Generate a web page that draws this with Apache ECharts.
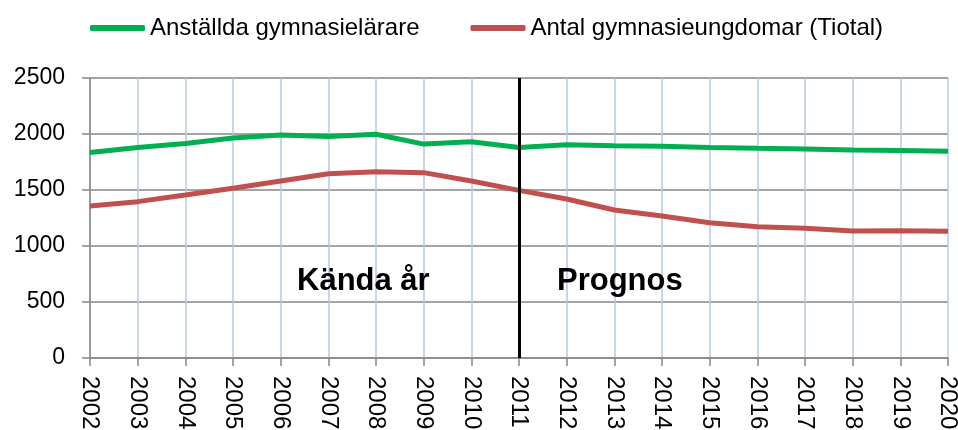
<!DOCTYPE html>
<html>
<head>
<meta charset="utf-8">
<script src="https://cdn.jsdelivr.net/npm/echarts@6/dist/echarts.min.js"></script>
<style>
  html, body { margin: 0; padding: 0; background: #fff; }
  #main { width: 958px; height: 430px; }
</style>
</head>
<body>
<div id="main"></div>
<script>
var years = ['2002', '2003', '2004', '2005', '2006', '2007', '2008', '2009', '2010', '2011',
    '2012', '2013', '2014', '2015', '2016', '2017', '2018', '2019', '2020'];
// Anställda gymnasielärare
var teachers = [1835, 1880, 1915, 1965, 1990, 1978, 1998, 1910, 1930, 1880,
    1905, 1895, 1890, 1880, 1873, 1867, 1858, 1853, 1847];
// Antal gymnasieungdomar (Tiotal)
var pupils = [1357, 1396, 1455, 1515, 1580, 1645, 1662, 1655, 1580, 1497,
    1420, 1321, 1268, 1208, 1172, 1158, 1134, 1137, 1131];
var splitYear = '2011';

var myChart = echarts.init(document.getElementById('main'));

var option = {
    animation: false,
    legend: {
        top: 11,
        left: 85,
        itemWidth: 55,
        itemHeight: 6,
        itemGap: 51,
        icon: 'roundRect',
        textStyle: {
            fontFamily: 'Arial, Liberation Sans, sans-serif',
            fontSize: 24,
            color: '#000'
        },
        data: ['Anställda gymnasielärare', 'Antal gymnasieungdomar (Tiotal)']
    },
    grid: {
        left: 90,
        right: 10,
        top: 78,
        bottom: 72,
        outerBoundsMode: 'none'
    },
    xAxis: {
        type: 'category',
        data: years,
        boundaryGap: false,
        axisLine: { lineStyle: { color: '#868686', width: 1.5 } },
        axisTick: { show: true, length: 8, lineStyle: { color: '#868686', width: 1.5 } },
        axisLabel: {
            rotate: -90,
            interval: 0,
            margin: 18,
            fontFamily: 'Arial, Liberation Sans, sans-serif',
            fontSize: 24,
            color: '#000'
        },
        splitLine: { show: true, lineStyle: { color: '#b4c7e7', width: 1.5 } }
    },
    yAxis: {
        type: 'value',
        min: 0,
        max: 2500,
        interval: 500,
        axisLine: { show: true, lineStyle: { color: '#868686', width: 1.5 } },
        axisTick: { show: true, length: 8, lineStyle: { color: '#868686', width: 1.5 } },
        axisLabel: {
            margin: 25,
            fontFamily: 'Arial, Liberation Sans, sans-serif',
            fontSize: 23,
            color: '#000',
            formatter: function (v) { return String(v); }
        },
        splitLine: { lineStyle: { color: '#868686', width: 1.5 } }
    },
    series: [
        {
            name: 'Anställda gymnasielärare',
            type: 'line',
            data: teachers,
            symbol: 'none',
            itemStyle: { color: '#00b050' },
            lineStyle: { color: '#00b050', width: 5 }
        },
        {
            name: 'Antal gymnasieungdomar (Tiotal)',
            type: 'line',
            data: pupils,
            symbol: 'none',
            itemStyle: { color: '#c0504d' },
            lineStyle: { color: '#c0504d', width: 5 },
            markLine: {
                silent: true,
                symbol: 'none',
                label: { show: false },
                lineStyle: { color: '#000', width: 3, type: 'solid' },
                data: [{ xAxis: splitYear }]
            }
        }
    ],
    graphic: [
        {
            type: 'text',
            z: 100,
            style: {
                x: 297,
                y: 281,
                text: 'Kända år',
                verticalAlign: 'middle',
                font: 'bold 31px Arial, Liberation Sans, sans-serif',
                fill: '#000'
            }
        },
        {
            type: 'text',
            z: 100,
            style: {
                x: 557,
                y: 281,
                text: 'Prognos',
                verticalAlign: 'middle',
                font: 'bold 31px Arial, Liberation Sans, sans-serif',
                fill: '#000'
            }
        }
    ]
};

myChart.setOption(option);
</script>
</body>
</html>
